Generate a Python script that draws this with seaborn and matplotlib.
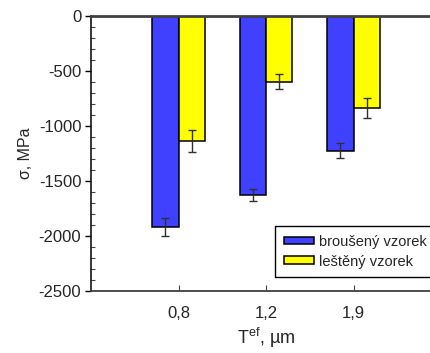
import matplotlib
matplotlib.use("Agg")
import matplotlib.pyplot as plt
from matplotlib.ticker import MultipleLocator
import seaborn as sns
import pandas as pd

# Residual stress per effective thickness
thickness = ["0,8", "1,2", "1,9"]
series = ["broušený vzorek", "leštěný vzorek"]
ground_mean = [-1918, -1625, -1224]
ground_err = [85, 56, 65]
polished_mean = [-1133, -597, -836]
polished_err = [100, 66, 95]
yticks = [0, -500, -1000, -1500, -2000, -2500]

colors = ["#4040FF", "#FFFF00"]

df = pd.DataFrame({
    "T": thickness * 2,
    "vzorek": [series[0]] * 3 + [series[1]] * 3,
    "sigma": ground_mean + polished_mean,
    "err": ground_err + polished_err,
})

sns.set_style("white")
plt.rcParams["font.family"] = ["Liberation Sans", "DejaVu Sans"]
plt.rcParams["axes.unicode_minus"] = False

fig = plt.figure(figsize=(4.30, 3.53), dpi=100)
ax = fig.add_axes([91 / 430, 62 / 353, 350 / 430, 275 / 353])

sns.barplot(data=df, x="T", y="sigma", hue="vzorek", order=thickness,
            hue_order=series, palette=colors, width=0.6, errorbar=None,
            edgecolor="black", linewidth=1.1, saturation=1, ax=ax)

# error bars at bar centres
for container, s in zip(ax.containers, series):
    sub = df[df["vzorek"] == s].set_index("T").loc[thickness]
    xs = [p.get_x() + p.get_width() / 2 for p in container.patches]
    ax.errorbar(xs, sub["sigma"].values, yerr=sub["err"].values, fmt="none",
                ecolor="#303030", elinewidth=1.0, capsize=2.6, capthick=1.0,
                zorder=5)

ax.set_xlim(-1, 3)
ax.set_ylim(-2500, 0)
ax.set_yticks(yticks)
ax.set_yticklabels([str(v) for v in yticks])
ax.yaxis.set_minor_locator(MultipleLocator(100))
ax.tick_params(axis="y", which="major", direction="out", length=4, width=1,
               labelsize=12, color="black", left=True, pad=3)
ax.tick_params(axis="y", which="minor", direction="in", length=3, width=0.8,
               color="#444444", left=True)
ax.tick_params(axis="x", which="major", direction="in", length=4, width=0.8,
               labelsize=12, color="#444444", bottom=True, pad=11)

ax.spines["left"].set_color("black")
ax.spines["left"].set_linewidth(1.1)
ax.spines["top"].set_visible(True)
ax.spines["top"].set_color("#404040")
ax.spines["top"].set_linewidth(2.0)
ax.spines["bottom"].set_color("#404040")
ax.spines["bottom"].set_linewidth(1.3)
ax.spines["right"].set_visible(False)

ax.set_ylabel("σ, MPa", fontsize=11.5, labelpad=4)
ax.set_xlabel(r"T$^{\mathregular{ef}}$, µm", fontsize=13, labelpad=3)

leg = ax.legend(loc="upper left", bbox_to_anchor=(184 / 350, (291 - 226) / 275),
                frameon=True, fontsize=10.5, fancybox=False, edgecolor="black",
                framealpha=1, handlelength=2.1, handleheight=0.45,
                handletextpad=0.35, borderpad=0.6, labelspacing=0.4,
                borderaxespad=0)
leg.get_frame().set_linewidth(1.0)

fig.savefig("out.png", dpi=100)
